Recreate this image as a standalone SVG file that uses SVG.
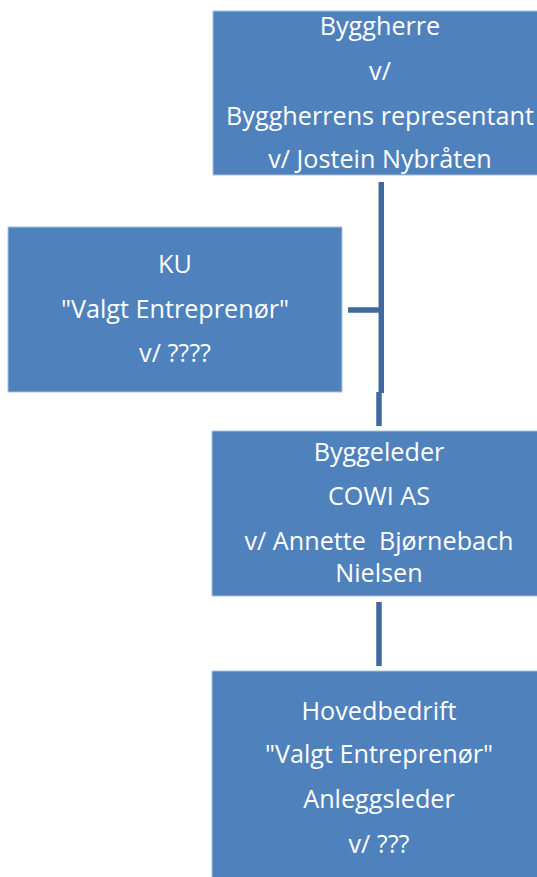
<svg xmlns="http://www.w3.org/2000/svg" width="537" height="877" viewBox="0 0 537 877">
<style>
.box{fill:#4F81BD;stroke:#A9C0DF;stroke-width:1}
.t{font-family:"Open Sans","Noto Sans",sans-serif;font-size:25.2px;fill:#FFFFFF;text-anchor:middle}
.c{stroke:#41699E;stroke-width:5.5;fill:none}
</style>
<rect width="537" height="877" fill="#FFFFFF"/>
<g id="connectors">
<line class="c" x1="381.3" y1="182" x2="381.3" y2="393"/>
<line class="c" x1="348" y1="310" x2="384" y2="310"/>
<line class="c" x1="379" y1="392" x2="379" y2="426"/>
<line class="c" x1="379" y1="602" x2="379" y2="666"/>
</g>
<g id="byggherre">
<rect class="box" x="213" y="11" width="340" height="164"/>
<text class="t" x="380" y="35">Byggherre</text>
<text class="t" x="380" y="80">v/</text>
<text class="t" x="380" y="125">Byggherrens representant</text>
<text class="t" x="380" y="168">v/ Jostein Nybråten</text>
</g>
<g id="ku">
<rect class="box" x="8" y="227" width="334" height="165"/>
<text class="t" x="175" y="273">KU</text>
<text class="t" x="175" y="318">"Valgt Entreprenør"</text>
<text class="t" x="175" y="362">v/ ????</text>
</g>
<g id="byggeleder">
<rect class="box" x="212" y="431" width="340" height="165"/>
<text class="t" x="379" y="461">Byggeleder</text>
<text class="t" x="379" y="505">COWI AS</text>
<text class="t" x="379" y="550" xml:space="preserve">v/ Annette  Bjørnebach</text>
<text class="t" x="379" y="582">Nielsen</text>
</g>
<g id="hovedbedrift">
<rect class="box" x="212" y="671" width="340" height="220"/>
<text class="t" x="379" y="720">Hovedbedrift</text>
<text class="t" x="379" y="763">"Valgt Entreprenør"</text>
<text class="t" x="379" y="808">Anleggsleder</text>
<text class="t" x="379" y="853">v/ ???</text>
</g>
</svg>
